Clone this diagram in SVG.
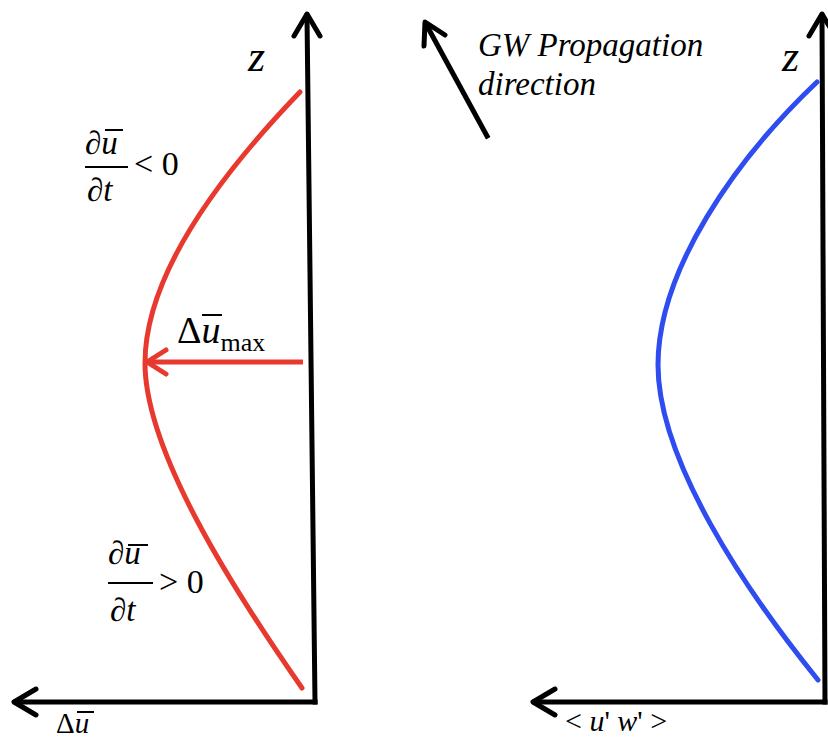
<svg xmlns="http://www.w3.org/2000/svg" width="828" height="738" viewBox="0 0 828 738">
<style>
.ax{stroke:#000;stroke-width:5;fill:none;stroke-linecap:square}
.hd{stroke:#000;stroke-width:5;fill:none;stroke-linecap:round;stroke-linejoin:round}
.t{font-family:"Liberation Serif","Times New Roman",serif;fill:#000}
.i{font-style:italic}
.bar{stroke:#000;stroke-width:2}
</style>
<rect width="828" height="738" fill="#fff"/>
<g id="connectors">
  <path class="ax" d="M315,702 L307,16"/>
  <path class="hd" d="M294,36 L307,14 L320,36"/>
  <path class="ax" d="M315,702 L16,702"/>
  <path class="hd" d="M36,689 L14,702 L36,715"/>
  <path class="ax" d="M825,702 L822,16"/>
  <path class="hd" d="M809,36 L822,14 L835,36"/>
  <path class="ax" d="M825,702 L535,702"/>
  <path class="hd" d="M555,689 L533,702 L555,715"/>
  <path class="ax" d="M487,136 L427,26"/>
  <path class="hd" d="M424,46 L425,22 L445,35"/>
  <path d="M303,362 L150,362" stroke="#e8392e" stroke-width="5" fill="none"/>
  <path d="M166,350 L147,362 L166,374" stroke="#e8392e" stroke-width="5" fill="none" stroke-linecap="round" stroke-linejoin="round"/>
</g>
<g id="red-curve">
  <path d="M300,92 C220,175 145,275 145,363 C145,450 230,585 302,688" stroke="#e8392e" stroke-width="5" fill="none" stroke-linecap="round"/>
</g>
<g id="blue-curve">
  <path d="M817,82 C735,160 658,270 658,365 C658,460 745,590 818,680" stroke="#2e4cf0" stroke-width="5" fill="none" stroke-linecap="round"/>
</g>
<g id="z-left"><text class="t i" x="248" y="71" font-size="44">z</text></g>
<g id="z-right"><text class="t i" x="782" y="71" font-size="44">z</text></g>
<g id="gw-label">
  <text class="t i" x="478" y="56" font-size="33">GW Propagation</text>
  <text class="t i" x="478" y="95" font-size="33">direction</text>
</g>
<g id="frac-top">
  <text class="t" x="85" y="154" font-size="33">∂<tspan class="i">u</tspan></text>
  <line class="bar" x1="105" y1="130" x2="123" y2="130"/>
  <line class="bar" x1="85" y1="167" x2="128" y2="167"/>
  <text class="t" x="87" y="201" font-size="33">∂<tspan class="i">t</tspan></text>
  <text class="t" x="134" y="175" font-size="34">&lt; 0</text>
</g>
<g id="frac-bottom">
  <text class="t" x="108" y="564" font-size="33">∂<tspan class="i">u</tspan></text>
  <line class="bar" x1="128" y1="545" x2="148" y2="545"/>
  <line class="bar" x1="108" y1="583" x2="153" y2="583"/>
  <text class="t" x="110" y="621" font-size="33">∂<tspan class="i">t</tspan></text>
  <text class="t" x="159" y="593" font-size="34">&gt; 0</text>
</g>
<g id="du-max">
  <text class="t" x="177" y="343" font-size="38">Δ<tspan class="i">u</tspan><tspan font-size="26" dy="8">max</tspan></text>
  <line class="bar" x1="202" y1="315" x2="222" y2="315"/>
</g>
<g id="du-label">
  <text class="t" x="56" y="733" font-size="29">Δ<tspan class="i">u</tspan></text>
  <line class="bar" x1="77" y1="712" x2="94" y2="712" stroke-width="1.5"/>
</g>
<g id="uw-label">
  <text class="t" x="565" y="731" font-size="30">&lt; <tspan class="i">u</tspan>' <tspan class="i">w</tspan>' &gt;</text>
</g>
</svg>
